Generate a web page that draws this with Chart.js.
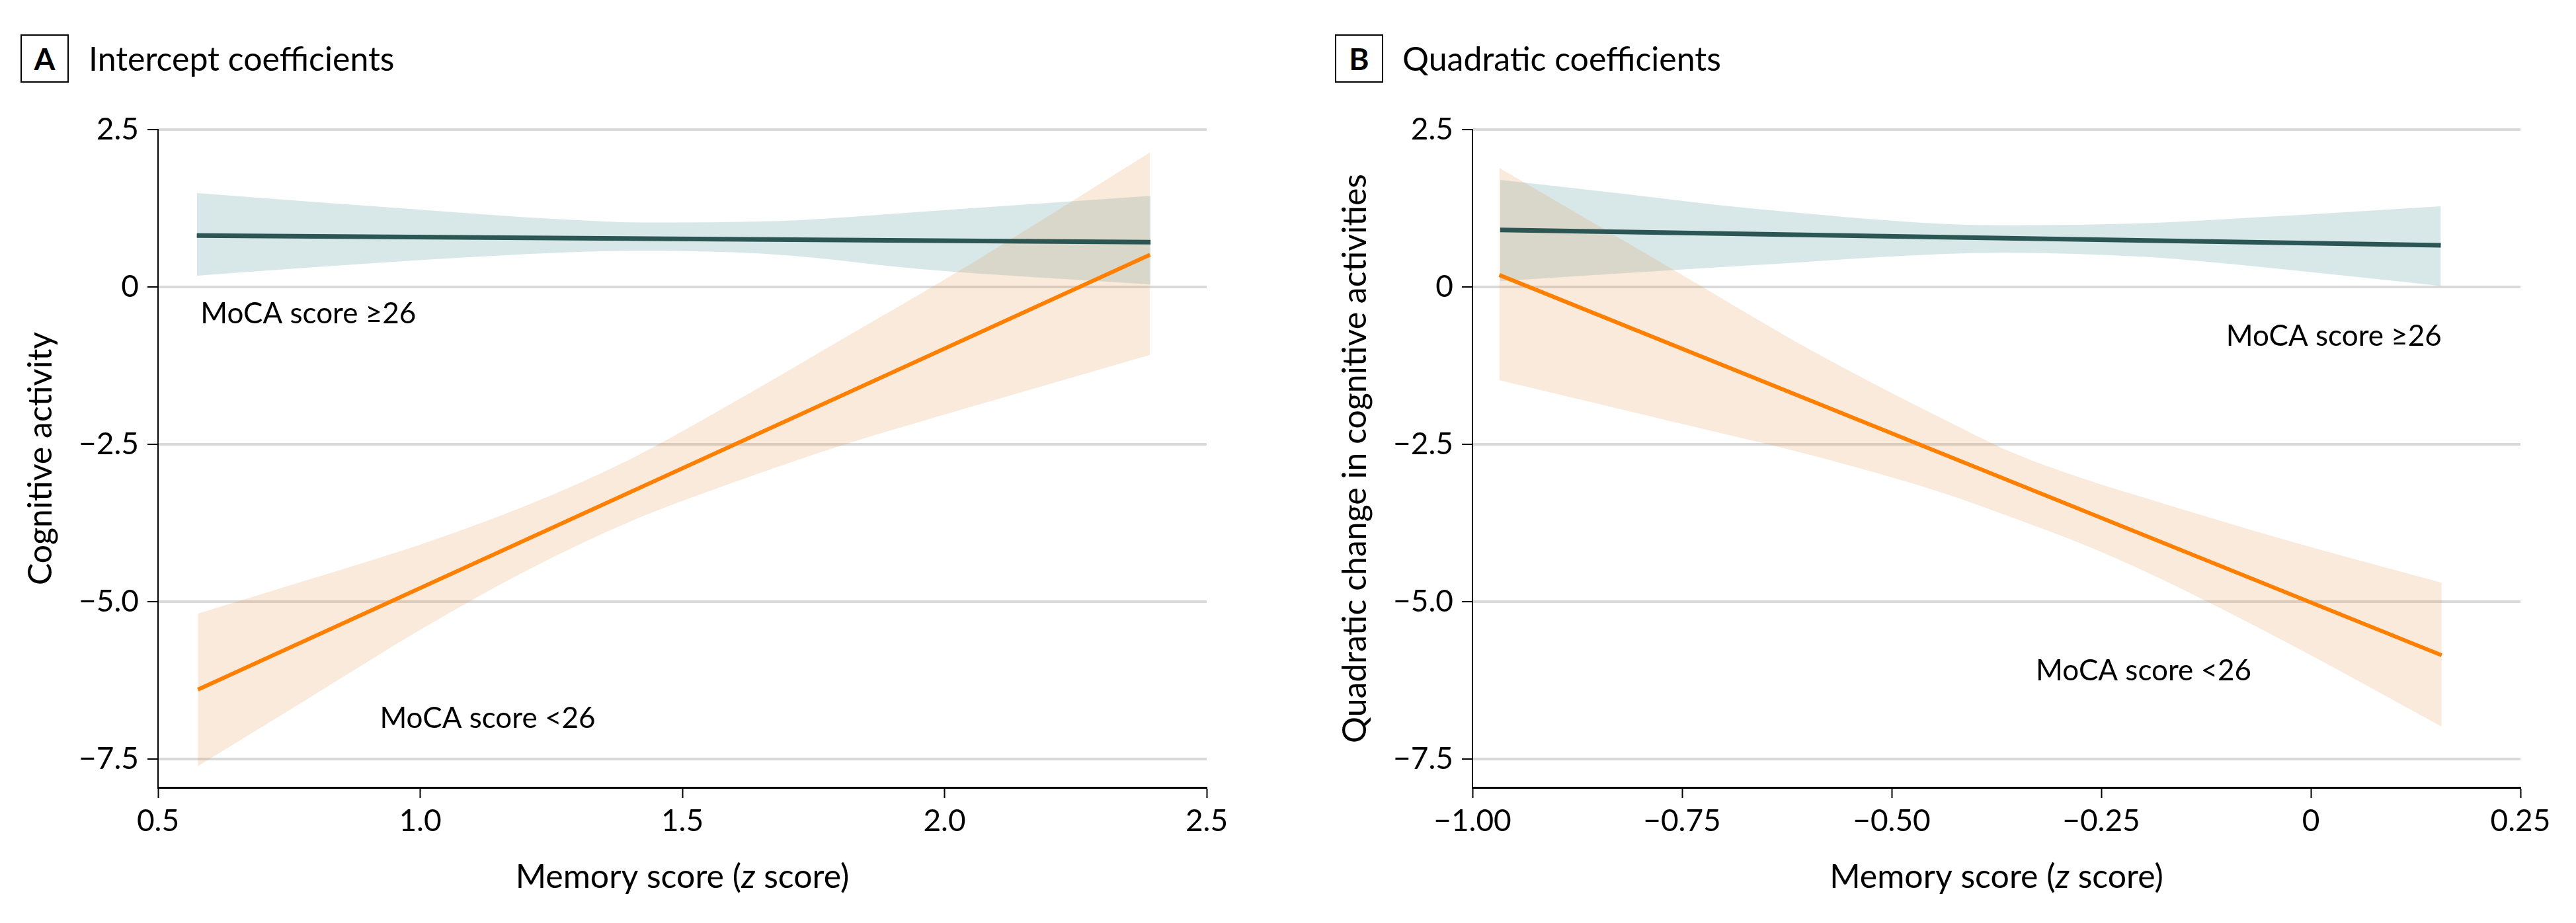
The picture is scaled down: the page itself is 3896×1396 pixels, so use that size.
<!DOCTYPE html>
<html><head><meta charset="utf-8">
<script src="https://cdn.jsdelivr.net/npm/chart.js@4/dist/chart.umd.min.js"></script>
<style>
html,body{margin:0;padding:0;background:#fff}
body{width:3896px;height:1396px;position:relative;overflow:hidden;font-family:Lato,"Liberation Sans",sans-serif;color:#000}
canvas{position:absolute;top:0}
#ca{left:0}
#cb{left:1948px}
.box{position:absolute;top:52px;width:73px;height:73px;box-sizing:border-box;border:2.5px solid #000;display:flex;align-items:center;justify-content:center;font-weight:bold;font-size:46px;line-height:1}
.ttl{position:absolute;top:58px;height:60px;line-height:60px;font-size:50px;white-space:nowrap}
</style></head>
<body>
<div class="box" style="left:31px">A</div><div class="ttl" style="left:134px">Intercept coefficients</div>
<div class="box" style="left:2019px">B</div><div class="ttl" style="left:2121px">Quadratic coefficients</div>
<canvas id="ca" width="1948" height="1396"></canvas>
<canvas id="cb" width="1948" height="1396"></canvas>
<script>
// ---------- Panel A: intercept coefficients ----------
const aXTicks = [0.5, 1.0, 1.5, 2.0, 2.5];
const aXTickLabels = ['0.5', '1.0', '1.5', '2.0', '2.5'];
const aTealLineX = [0.574, 2.393];
const aTealLineY = [0.817, 0.712];
const aTealBandX = [0.574, 0.998, 1.271, 1.42, 1.682, 1.955, 2.393];
const aTealUpper = [1.493, 1.230, 1.073, 1.025, 1.048, 1.195, 1.447];
const aTealLower = [0.180, 0.425, 0.547, 0.575, 0.513, 0.285, 0.040];
const aOrangeLineX = [0.576, 2.392];
const aOrangeLineY = [-6.396, 0.512];
const aOrangeBandX = [0.576, 0.750, 1.011, 1.206, 1.402, 1.597, 1.793, 2.053, 2.392];
const aOrangeUpper = [-5.188, -4.744, -4.061, -3.461, -2.730, -1.836, -0.887, 0.382, 2.137];
const aOrangeLower = [-7.611, -6.724, -5.392, -4.491, -3.720, -3.106, -2.546, -1.898, -1.078];

// ---------- Panel B: quadratic coefficients ----------
const bXTicks = [-1.0, -0.75, -0.5, -0.25, 0, 0.25];
const bXTickLabels = ['\u22121.00', '\u22120.75', '\u22120.50', '\u22120.25', '0', '0.25'];
const bTealLineX = [-0.967, 0.155];
const bTealLineY = [0.905, 0.663];
const bTealBandX = [-0.967, -0.817, -0.667, -0.365, -0.197, -0.062, 0.155];
const bTealUpper = [1.703, 1.476, 1.248, 0.980, 1.013, 1.108, 1.283];
const bTealLower = [0.092, 0.220, 0.345, 0.545, 0.477, 0.320, 0.016];
const bOrangeLineX = [-0.968, 0.156];
const bOrangeLineY = [0.191, -5.850];
const bOrangeBandX = [-0.968, -0.762, -0.599, -0.436, -0.354, -0.273, -0.191, -0.028, 0.156];
const bOrangeUpper = [1.891, 0.287, -0.983, -2.116, -2.642, -3.038, -3.379, -4.027, -4.696];
const bOrangeLower = [-1.481, -2.137, -2.662, -3.283, -3.672, -4.082, -4.560, -5.652, -6.983];

// ---------- shared y axis ----------
const yTicks = [2.5, 0, -2.5, -5.0, -7.5];
const yTickLabels = ['2.5', '0', '\u22122.5', '\u22125.0', '\u22127.5'];
const yMin = -7.95, yMax = 2.5;

const TEAL = '#2b5654', TEAL_BAND = 'rgba(58,140,140,0.2)';
const ORANGE = '#ff8000', ORANGE_BAND = 'rgba(220,140,60,0.18)';
const FONT = 'Lato, "Liberation Sans", sans-serif';

const pts = (xs, ys) => xs.map((x, i) => ({x: x, y: ys[i]}));

function lineDs(xs, ys, color, w) {
  return {data: pts(xs, ys), borderColor: color, borderWidth: w, pointRadius: 0, fill: false, tension: 0};
}
function bandDs(xs, ys, color, fill) {
  return {data: pts(xs, ys), borderWidth: 0, borderColor: 'rgba(0,0,0,0)', backgroundColor: color,
          pointRadius: 0, fill: fill, cubicInterpolationMode: 'monotone'};
}

const textPlugin = {
  id: 'texts',
  afterDatasetsDraw(chart, args, opts) {
    const ctx = chart.ctx, xs = chart.scales.x, ys = chart.scales.y;
    ctx.save();
    ctx.fillStyle = '#000';
    ctx.font = '44px ' + FONT;
    ctx.textBaseline = 'alphabetic';
    (opts.notes || []).forEach(n => {
      ctx.textAlign = n.align;
      ctx.fillText(n.text, xs.getPixelForValue(n.x), ys.getPixelForValue(n.y));
    });
    // x-axis title with italic z
    const parts = [['Memory score (', 'normal'], ['z', 'italic'], [' score)', 'normal']];
    let total = 0;
    parts.forEach(p => { ctx.font = p[1] + ' 50px ' + FONT; p.push(ctx.measureText(p[0]).width); total += p[2]; });
    let x = (chart.chartArea.left + chart.chartArea.right) / 2 - total / 2;
    const y = xs.bottom - 69;
    ctx.textAlign = 'left';
    ctx.textBaseline = 'middle';
    parts.forEach(p => { ctx.font = p[1] + ' 50px ' + FONT; ctx.fillText(p[0], x, y); x += p[2]; });
    ctx.restore();
  }
};

function makeChart(id, cfg) {
  const datasets = [
    lineDs(cfg.tealLineX, cfg.tealLineY, TEAL, 7),
    lineDs(cfg.orangeLineX, cfg.orangeLineY, ORANGE, 6),
    bandDs(cfg.orangeBandX, cfg.orangeUpper, ORANGE_BAND, '+1'),
    bandDs(cfg.orangeBandX, cfg.orangeLower, ORANGE_BAND, false),
    bandDs(cfg.tealBandX, cfg.tealUpper, TEAL_BAND, '+1'),
    bandDs(cfg.tealBandX, cfg.tealLower, TEAL_BAND, false)
  ];
  return new Chart(document.getElementById(id), {
    type: 'line',
    data: {datasets: datasets},
    plugins: [textPlugin],
    options: {
      responsive: false, animation: false, devicePixelRatio: 1,
      layout: {padding: {left: 0, right: cfg.padRight, top: 196, bottom: 0}},
      plugins: {legend: {display: false}, tooltip: {enabled: false}, texts: {notes: cfg.notes}},
      scales: {
        x: {
          type: 'linear', min: cfg.xTicks[0], max: cfg.xTicks[cfg.xTicks.length - 1],
          afterBuildTicks: s => { s.ticks = cfg.xTicks.map(v => ({value: v})); },
          afterFit: s => { s.height = 205; },
          ticks: {autoSkip: false, maxRotation: 0, padding: 8, color: '#000', font: {family: FONT, size: 46},
                  callback: v => cfg.xTickLabels[cfg.xTicks.indexOf(v)]},
          grid: {drawOnChartArea: false, drawTicks: true, tickLength: 16, tickColor: '#000', tickWidth: 2},
          border: {display: true, color: '#000', width: 3}
        },
        y: {
          type: 'linear', min: yMin, max: yMax,
          afterBuildTicks: s => { s.ticks = yTicks.map(v => ({value: v})); },
          afterFit: s => { s.width = cfg.yWidth; },
          ticks: {autoSkip: false, padding: 13, color: '#000', font: {family: FONT, size: 46},
                  callback: v => yTickLabels[yTicks.indexOf(v)]},
          grid: {color: '#d9d9d9', lineWidth: 4, drawTicks: true, tickLength: 16, tickColor: '#000', tickWidth: 2},
          border: {display: true, color: '#000', width: 2},
          title: {display: true, text: cfg.yTitle, color: '#000', font: {family: FONT, size: 50}, padding: {top: cfg.yTitlePad, bottom: 0}}
        }
      }
    }
  });
}

makeChart('ca', {
  xTicks: aXTicks, xTickLabels: aXTickLabels,
  tealLineX: aTealLineX, tealLineY: aTealLineY,
  tealBandX: aTealBandX, tealUpper: aTealUpper, tealLower: aTealLower,
  orangeLineX: aOrangeLineX, orangeLineY: aOrangeLineY,
  orangeBandX: aOrangeBandX, orangeUpper: aOrangeUpper, orangeLower: aOrangeLower,
  padRight: 123, yWidth: 239, yTitlePad: 32, yTitle: 'Cognitive activity',
  notes: [
    {text: 'MoCA score \u226526', x: 0.581, y: -0.58, align: 'left'},
    {text: 'MoCA score <26', x: 0.923, y: -7.0, align: 'left'}
  ]
});

makeChart('cb', {
  xTicks: bXTicks, xTickLabels: bXTickLabels,
  tealLineX: bTealLineX, tealLineY: bTealLineY,
  tealBandX: bTealBandX, tealUpper: bTealUpper, tealLower: bTealLower,
  orangeLineX: bOrangeLineX, orangeLineY: bOrangeLineY,
  orangeBandX: bOrangeBandX, orangeUpper: bOrangeUpper, orangeLower: bOrangeLower,
  padRight: 84, yWidth: 279, yTitlePad: 72, yTitle: 'Quadratic change in cognitive activities',
  notes: [
    {text: 'MoCA score \u226526', x: 0.156, y: -0.935, align: 'right'},
    {text: 'MoCA score <26', x: -0.328, y: -6.246, align: 'left'}
  ]
});
</script>
</body></html>
